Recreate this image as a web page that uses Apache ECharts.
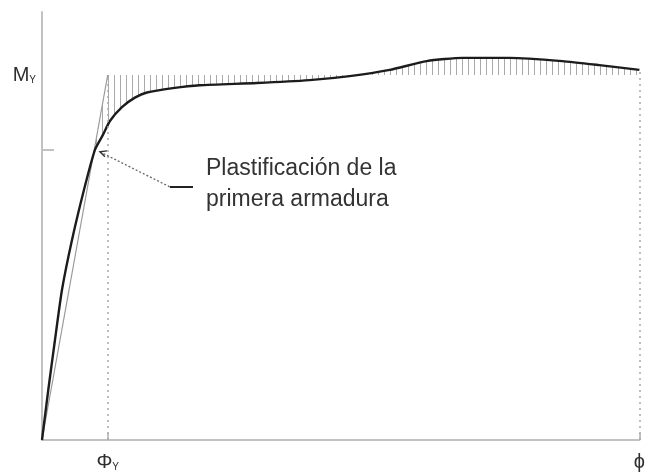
<!DOCTYPE html>
<html>
<head>
<meta charset="utf-8">
<script src="https://cdn.jsdelivr.net/npm/echarts@6/dist/echarts.min.js"></script>
<style>
  html, body { margin: 0; padding: 0; background: #fff; }
  #chart { width: 648px; height: 474px; }
</style>
</head>
<body>
<div id="chart"></div>
<script>
// Moment–curvature curve (normalised: curvature / ultimate curvature, moment / yield moment)
const phiCurve = [0, 0.0105, 0.0217, 0.0334, 0.0502, 0.0702, 0.0886, 0.102, 0.1137, 0.1338, 0.1555, 0.1756, 0.219, 0.264, 0.3595, 0.448, 0.515, 0.582, 0.644, 0.704, 0.783, 0.871, 0.933, 1.0];
const mCurve   = [0, 0.137, 0.274, 0.411, 0.548, 0.685, 0.795, 0.836, 0.874, 0.912, 0.938, 0.952, 0.964, 0.972, 0.978, 0.986, 0.997, 1.014, 1.038, 1.047, 1.047, 1.038, 1.027, 1.014];

// Index of the first-yield point on the curve
const firstYieldIndex = 6;

// Idealised bilinear response: elastic branch up to (phiY, My)
const phiY = 0.11;
const mY = 1.0;
const phiU = 1.0;

// Axis labels
const xTickValues = [phiY, phiU];
const yTickValues = [mCurve[firstYieldIndex]];
const yLabelValues = [mY];

const FONT = 'Liberation Sans, Arial, sans-serif';
const yMax = 428 / 365;

// Vertical hatching pattern
function hatchPattern() {
  const c = document.createElement('canvas');
  c.width = 6; c.height = 8;
  const ctx = c.getContext('2d');
  ctx.fillStyle = '#aaaaaa';
  ctx.fillRect(0, 0, 1, 8);
  return { image: c, repeat: 'repeat' };
}
const pattern = hatchPattern();

// Region between the bilinear idealisation and the curve, from first yield onward
function hatchPolygon() {
  const m1 = mCurve[firstYieldIndex];
  const pts = [[phiY * m1 / mY, m1], [phiY, mY], [phiU, mY]];
  for (let i = phiCurve.length - 1; i >= firstYieldIndex; i--) {
    pts.push([phiCurve[i], mCurve[i]]);
  }
  return pts;
}
const hatchPts = hatchPolygon();

const chart = echarts.init(document.getElementById('chart'), null, { renderer: 'canvas' });

const axisLineStyle = { color: '#c2c2c2', width: 2 };
const labelRich = {
  b: { fontFamily: FONT, fontSize: 20, color: '#2e2e2e' },
  s: { fontFamily: FONT, fontSize: 10, color: '#2e2e2e', verticalAlign: 'bottom', padding: [7, 0, 0, 0] }
};

chart.setOption({
  animation: false,
  backgroundColor: '#ffffff',
  grid: { left: 42, right: 8, top: 12, bottom: 34 },
  xAxis: {
    type: 'value', min: 0, max: phiU,
    axisLine: { show: true, lineStyle: axisLineStyle },
    splitLine: { show: false },
    axisTick: { show: true, inside: true, length: 7, customValues: xTickValues, lineStyle: { color: '#c2c2c2', width: 2 } },
    axisLabel: {
      customValues: xTickValues,
      margin: 12,
      formatter: v => Math.abs(v - phiY) < 1e-9 ? '{b|Φ}{s|Y}' : '{b|ϕ}',
      rich: labelRich
    }
  },
  yAxis: {
    type: 'value', min: 0, max: yMax,
    axisLine: { show: true, lineStyle: axisLineStyle },
    splitLine: { show: false },
    axisTick: { show: true, inside: true, length: 12, customValues: yTickValues, lineStyle: { color: '#c2c2c2', width: 2 } },
    axisLabel: {
      customValues: yLabelValues,
      margin: 6,
      formatter: () => '{b|M}{s|Y}',
      rich: labelRich
    }
  },
  series: [
    {
      // hatched area
      type: 'custom',
      data: [[0, 0]],
      silent: true,
      z: 1,
      renderItem: (params, api) => ({
        type: 'polygon',
        shape: { points: hatchPts.map(p => api.coord(p)) },
        style: { fill: pattern, stroke: null }
      })
    },
    {
      // bilinear elastic branch
      type: 'line',
      data: [[0, 0], [phiY, mY]],
      symbol: 'none',
      z: 2,
      lineStyle: { color: '#9a9a9a', width: 1.2 },
      markLine: {
        silent: true,
        symbol: ['none', 'none'],
        label: { show: false },
        lineStyle: { color: '#a8a8a8', width: 1.5, type: [2, 4] },
        data: [
          [{ coord: [phiY, 0] }, { coord: [phiY, mY] }],
          [{ coord: [phiU, 0] }, { coord: [phiU, mCurve[mCurve.length - 1]] }]
        ]
      }
    },
    {
      // moment–curvature curve
      type: 'line',
      data: phiCurve.map((p, i) => [p, mCurve[i]]),
      symbol: 'none',
      smooth: 0.2,
      z: 3,
      lineStyle: { color: '#1c1c1c', width: 2.4 }
    }
  ]
});

// Annotation for first yield of the reinforcement
const tip = chart.convertToPixel({ gridIndex: 0 }, [phiCurve[firstYieldIndex], mCurve[firstYieldIndex]]);
const tx = tip[0] + 5, ty = tip[1] + 2;
const elbow = [170, 187];
chart.setOption({
  graphic: [
    { type: 'polyline', shape: { points: [[tx, ty], elbow] }, style: { stroke: '#666', lineWidth: 1.3, lineDash: [2, 2] }, z: 10 },
    { type: 'polyline', shape: { points: [[tx + 7, ty - 1], [tx, ty], [tx + 5, ty + 5]] }, style: { stroke: '#333', lineWidth: 1.4, fill: null }, z: 10 },
    { type: 'line', shape: { x1: elbow[0], y1: elbow[1], x2: 193, y2: elbow[1] }, style: { stroke: '#222', lineWidth: 2 }, z: 10 },
    {
      type: 'text', left: 206, top: 153, z: 10,
      style: { text: 'Plastificación de la\nprimera armadura', font: '23px ' + FONT, fill: '#333333', lineHeight: 31 }
    }
  ]
});
</script>
</body>
</html>
